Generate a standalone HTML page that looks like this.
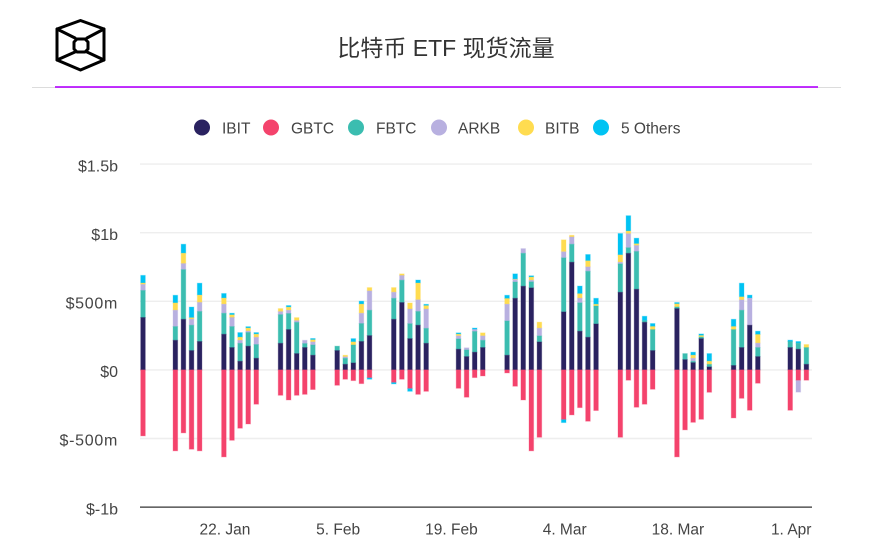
<!DOCTYPE html>
<html lang="zh">
<head>
<meta charset="utf-8">
<title>比特币 ETF 现货流量</title>
<style>
html,body{margin:0;padding:0;background:#fff;}
#page{position:relative;width:886px;height:552px;overflow:hidden;background:#fff;}
svg{position:absolute;left:0;top:0;font-family:"Liberation Sans","Noto Sans CJK SC",sans-serif;}
</style>
</head>
<body>
<div id="page">
<svg id="chart" width="886" height="552" viewBox="0 0 886 552">
  <g fill="none" stroke="#000" stroke-width="3" stroke-linejoin="round" stroke-linecap="round">
    <polygon points="80.5,20.5 104,29 104,60 80.5,70 57,60 57,29"/>
    <path d="M57,29 L75,38 M104,29 L87,38 M57,60 L75,52 M104,60 L87,52"/>
    <polygon points="77,39 85,39 88,42 88,49 85,52 77,52 74,49 74,42" stroke-width="3"/>
  </g>
  <text x="446" y="56" text-anchor="middle" font-size="23" fill="#333">比特币 ETF 现货流量</text>
  <rect x="32" y="87" width="809" height="1" fill="#dcdcdc"/>
  <rect x="55" y="86.2" width="763" height="1.6" fill="#b300ff"/>
  <g id="legend"></g>
  <g id="grid"></g>
  <g id="yticks"></g>
  <g id="bars"></g>
  <g id="xticks"></g>
</svg>
</div>
<script>
// Trading dates, as day offset from 12 Jan 2024
const dayOffsets = [0,4,5,6,7,10,11,12,13,14,17,18,19,20,21,24,25,26,27,28,31,32,33,34,35,39,40,41,42,45,46,47,48,49,52,53,54,55,56,59,60,61,62,63,66,67,68,69,70,73,74,75,76,80,81,82];
// Daily flows in $ millions
const ibit = [382,216,369,141,207,260,163,63,173,85,194,294,119,163,107,141,41,51,207,250,369,491,228,326,194,151,97,129,163,107,522,610,598,204,423,785,282,238,335,566,850,588,347,141,447,75,53,228,22,32,163,326,97,163,151,41];
const gbtc = [-481,-590,-459,-578,-590,-634,-513,-425,-394,-250,-185,-219,-185,-178,-143,-112,-68,-78,-100,-56,-90,-68,-134,-178,-156,-134,-199,-56,-44,-22,-119,-219,-590,-491,-360,-328,-275,-374,-296,-491,-75,-272,-250,-141,-634,-437,-382,-360,-163,-350,-207,-294,-97,-294,-75,-75];
const fbtc = [197,100,362,185,219,153,153,131,100,100,209,117,228,29,75,32,44,131,131,185,153,163,109,100,109,75,49,151,53,250,119,240,44,44,394,131,207,481,131,207,41,275,12,153,12,44,10,12,19,262,272,0,66,44,44,122];
const arkb = [44,119,44,44,66,66,66,22,10,53,22,24,12,24,22,0,10,0,75,141,44,34,107,85,141,22,15,15,32,122,17,34,12,56,44,53,34,32,0,12,102,44,0,0,0,0,22,0,0,0,75,197,32,0,0,0];
const bitb = [10,53,75,10,53,44,19,22,22,22,22,22,22,0,15,0,12,22,66,24,34,12,44,122,24,12,0,0,22,41,3,0,22,44,87,12,32,44,12,53,19,12,0,22,22,0,22,10,22,22,22,0,63,0,0,22];
const others = [56,56,66,78,87,34,12,34,10,12,0,12,0,0,10,0,0,24,22,0,0,0,0,22,10,10,0,10,0,24,39,0,10,0,0,0,56,46,44,156,112,41,32,22,10,0,22,12,56,53,100,22,24,10,12,0];
const negOthers = [0,0,0,0,0,0,0,0,0,0,0,0,0,0,0,0,0,0,0,-12,-12,0,-22,0,0,0,0,0,0,0,0,0,0,0,-24,0,0,0,0,0,0,0,0,0,0,0,0,0,0,0,0,0,0,0,0,0];
const negArkb = [0,0,0,0,0,0,0,0,0,0,0,0,0,0,0,0,0,0,0,0,0,0,0,0,0,0,0,0,0,0,0,0,0,0,0,0,0,0,0,0,0,0,0,0,0,0,0,0,0,0,0,0,0,0,-87,0];
// Axis ticks
const yTickValues = [1500,1000,500,0,-500,-1000];
const yTickLabels = ['$1.5b','$1b','$500m','$0','$-500m','$-1b'];
const xTickDays = [10,24,38,52,66,80];
const xTickLabels = ['22. Jan','5. Feb','19. Feb','4. Mar','18. Mar','1. Apr'];
// Legend
const legendNames = ['IBIT','GBTC','FBTC','ARKB','BITB','5 Others'];

const NS = 'http://www.w3.org/2000/svg';
const colors = {IBIT:'#2a2260',GBTC:'#f4436c',FBTC:'#3bbdb0',ARKB:'#b8b0e0',BITB:'#ffdc50',OTHERS:'#00c3f3'};
const legendColors = [colors.IBIT,colors.GBTC,colors.FBTC,colors.ARKB,colors.BITB,colors.OTHERS];
const legendCircleX = [202,271,356,439,526,601];
const legendTextX = [222,291,376,458,545,621];

function xScale(d){ return 143 + d * 8.09; }
function yScale(v){ return 369.9 - v * 0.1372; }
function mk(tag, attrs, parent){
  const el = document.createElementNS(NS, tag);
  for (const k in attrs) el.setAttribute(k, attrs[k]);
  parent.appendChild(el);
  return el;
}

const gridG = document.getElementById('grid');
const yG = document.getElementById('yticks');
yTickValues.forEach(function(v, i){
  const y = yScale(v);
  const isBase = i === yTickValues.length - 1;
  const line = mk('line', {x1:140, x2:812, y1:y, y2:y, stroke:isBase ? '#333' : '#eeeeee', 'stroke-width':isBase ? 1.2 : 1.4}, gridG);
  
  
  const hasM = yTickLabels[i].indexOf('m') >= 0;
  const t = mk('text', {x:118, y:y + 7.2, 'text-anchor':'end', 'font-size':16, 'letter-spacing':hasM ? 0.7 : 0, fill:'#444'}, yG);
  
  
  t.textContent = yTickLabels[i];
});

const xG = document.getElementById('xticks');
xTickDays.forEach(function(d, i){
  const t = mk('text', {x:xScale(d) + 1, y:534.5, 'text-anchor':'middle', 'font-size':15.5, fill:'#444'}, xG);
  
  
  t.textContent = xTickLabels[i];
});

const legendG = document.getElementById('legend');
legendNames.forEach(function(n, i){
  const g = mk('g', {}, legendG);
  
  
  mk('circle', {cx:legendCircleX[i], cy:127.5, r:8, fill:legendColors[i]}, g);
  const t = mk('text', {x:legendTextX[i], y:133.5, 'font-size':15.5, fill:'#444'}, g);
  t.textContent = n;
});

const barsG = document.getElementById('bars');
function seg(parent, cx, v0, v1, color, name){
  if (!v1) return;
  const a = yScale(v0), b = yScale(v0 + v1);
  const r = mk('rect', {x:cx - 2.3, y:Math.min(a, b), width:4.6, height:Math.abs(a - b), fill:color, stroke:color, 'stroke-opacity':0.3, 'stroke-width':1}, parent);
  
  
}
dayOffsets.forEach(function(d, i){
  const cx = xScale(d);
  const g = mk('g', {}, barsG);
  
  
  let top = 0;
  [[others,colors.OTHERS,'bar-others'],[bitb,colors.BITB,'bar-bitb'],[arkb,colors.ARKB,'bar-arkb'],[fbtc,colors.FBTC,'bar-fbtc'],[ibit,colors.IBIT,'bar-ibit']].forEach(function(s){ top += s[0][i]; });
  // draw from top of the stack down so darker segments sit on top
  [[others,colors.OTHERS,'bar-others'],[bitb,colors.BITB,'bar-bitb'],[arkb,colors.ARKB,'bar-arkb'],[fbtc,colors.FBTC,'bar-fbtc'],[ibit,colors.IBIT,'bar-ibit']].forEach(function(s){
    const v = s[0][i];
    seg(g, cx, top - v, v, s[1], s[2]);
    top -= v;
  });
  let low = gbtc[i];
  seg(g, cx, low, negOthers[i], colors.OTHERS, 'bar-others');
  low += negOthers[i];
  seg(g, cx, low, negArkb[i], colors.ARKB, 'bar-arkb');
  seg(g, cx, 0, gbtc[i], colors.GBTC, 'bar-gbtc');
});
</script>
</body>
</html>
